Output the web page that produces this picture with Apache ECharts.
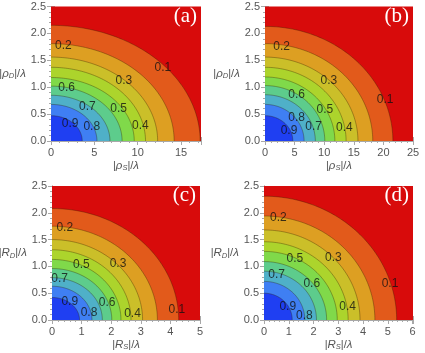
<!DOCTYPE html>
<html><head><meta charset="utf-8">
<script src="https://cdn.jsdelivr.net/npm/echarts@6/dist/echarts.min.js"></script>
<style>html,body{margin:0;padding:0;background:#fff}#c{width:425px;height:353px}</style>
</head><body><div id="c"></div>
<script>
// contour levels (inner to outer)
const levels = [0.9, 0.8, 0.7, 0.6, 0.5, 0.4, 0.3, 0.2, 0.1];
// fill colour of the region just inside each level (same order), and below lowest level
const levelFill = ['#1f3ff2', '#3f7ff3', '#4fb0c8', '#5dcc8c', '#80d94a', '#acd42c', '#cbbf29', '#dd9f22', '#e25a1b'];
const outerFill = '#d80b0b';

// contour intercepts on the horizontal axis and on the vertical axis, per panel
const aXint = [3.6, 5.3, 6.8, 8.2, 9.6, 10.9, 12.3, 14.2, 17.2];
const aYint = [0.47, 0.68, 0.85, 1.02, 1.18, 1.37, 1.56, 1.81, 2.15];
const bXint = [4.7, 6.6, 8.5, 10.1, 11.8, 13.7, 15.7, 18.2, 21.6];
const bYint = [0.47, 0.68, 0.86, 1.03, 1.19, 1.37, 1.56, 1.81, 2.13];
const cXint = [0.93, 1.35, 1.7, 2.02, 2.33, 2.67, 3.06, 3.56, 4.28];
const cYint = [0.42, 0.63, 0.79, 0.96, 1.13, 1.31, 1.5, 1.75, 2.08];
const dXint = [1.14, 1.65, 2.12, 2.53, 2.96, 3.4, 3.88, 4.48, 5.36];
const dYint = [0.5, 0.72, 0.91, 1.09, 1.28, 1.46, 1.68, 1.94, 2.31];

// contour labels [x, y, text]
const aLabels = [[1.42,1.78,'0.2'],[12.9,1.36,'0.1'],[8.4,1.13,'0.3'],[1.8,0.99,'0.6'],[4.2,0.64,'0.7'],[7.8,0.6,'0.5'],[2.2,0.33,'0.9'],[4.7,0.27,'0.8'],[10.3,0.28,'0.4']];
const bLabels = [[2.8,1.75,'0.2'],[10.8,1.13,'0.3'],[20.3,0.77,'0.1'],[5.35,0.87,'0.6'],[10.1,0.59,'0.5'],[5.35,0.44,'0.8'],[4.05,0.2,'0.9'],[8.2,0.27,'0.7'],[13.4,0.25,'0.4']];
const cLabels = [[0.43,1.72,'0.2'],[0.99,1.04,'0.5'],[2.23,1.05,'0.3'],[0.26,0.77,'0.7'],[0.6,0.34,'0.9'],[1.86,0.32,'0.6'],[1.25,0.14,'0.8'],[2.72,0.125,'0.4'],[4.22,0.2,'0.1']];
const dLabels = [[0.58,1.91,'0.2'],[1.25,1.14,'0.5'],[2.8,1.16,'0.3'],[0.51,0.85,'0.7'],[1.93,0.67,'0.6'],[5.09,0.68,'0.1'],[0.96,0.25,'0.9'],[3.38,0.24,'0.4'],[1.63,0.075,'0.8']];

// axes
const xMaxes = [17.3, 25, 5, 6.02];
const xIntervals = [5, 5, 1, 1];
const yMax = 2.5, yInterval = 0.5;
const panelTags = ['(a)', '(b)', '(c)', '(d)'];
const xSym = ['ρ', 'ρ', 'R', 'R'];

const panels = [
  {xi: aXint, yi: aYint, lab: aLabels, grid: {left: 51, top: 6.5, width: 150, height: 134.5}, ygap: 30},
  {xi: bXint, yi: bYint, lab: bLabels, grid: {left: 265, top: 6.5, width: 148, height: 134.5}, ygap: 30.5},
  {xi: cXint, yi: cYint, lab: cLabels, grid: {left: 52, top: 186, width: 148, height: 134}, ygap: 32},
  {xi: dXint, yi: dYint, lab: dLabels, grid: {left: 264, top: 186, width: 149, height: 134}, ygap: 33}
];

const frame = '#a8a8a8';
const tickText = '#555';
const FONT = 'Liberation Sans';

function nameRich(sym, sub) {
  return {
    text: '{n||}{i|' + sym + '}{s|' + sub + '}{n||/}{i|λ}',
    rich: {
      n: {fontSize: 11, color: '#555', fontFamily: FONT},
      i: {fontSize: 11.5, color: '#555', fontStyle: 'italic', fontFamily: FONT},
      s: {fontSize: 7.5, color: '#555', fontStyle: 'italic', fontFamily: FONT, verticalAlign: 'bottom', padding: [5, 0, 0, 0]}
    }
  };
}

const grids = [], xAxes = [], yAxes = [], series = [], graphics = [];
panels.forEach((p, k) => {
  grids.push(Object.assign({outerBoundsMode: 'none', containLabel: false}, p.grid));
  const xn = nameRich(xSym[k], 'S');
  const yn = nameRich(xSym[k], 'D');
  const xMax = xMaxes[k], xInt = xIntervals[k];
  const common = {
    gridIndex: k, type: 'value', min: 0,
    axisLine: {show: true, lineStyle: {color: frame, width: 1}},
    axisTick: {show: true, inside: true, length: 4, lineStyle: {color: frame}},
    minorTick: {show: true, splitNumber: 5, length: 2, lineStyle: {color: frame}},
    splitLine: {show: false}
  };
  xAxes.push(Object.assign({}, common, {
    position: 'bottom', max: xMax, interval: xInt,
    axisLabel: {color: tickText, fontSize: 11, fontFamily: FONT, margin: 6,
      formatter: v => (Math.abs(v / xInt - Math.round(v / xInt)) < 1e-6 ? String(Math.round(v)) : '')},
    name: xn.text, nameLocation: 'middle', nameGap: 18, nameTextStyle: {rich: xn.rich}
  }));
  xAxes.push(Object.assign({}, common, {position: 'top', max: xMax, interval: xInt, axisLabel: {show: false}}));
  yAxes.push(Object.assign({}, common, {
    position: 'left', max: yMax, interval: yInterval,
    axisLabel: {color: tickText, fontSize: 11, fontFamily: FONT, margin: 5, formatter: v => v.toFixed(1)},
    name: yn.text, nameLocation: 'middle', nameRotate: 0, nameGap: p.ygap, nameTextStyle: {rich: yn.rich, align: 'center'}
  }));
  yAxes.push(Object.assign({}, common, {position: 'right', max: yMax, interval: yInterval, axisLabel: {show: false}}));

  const xIdx = 2 * k, yIdx = 2 * k;
  // background (region below the lowest contour level)
  series.push({
    type: 'custom', xAxisIndex: xIdx, yAxisIndex: yIdx, z: 1, silent: true,
    data: [[0, 0]],
    renderItem: (params) => {
      const cs = params.coordSys;
      return {type: 'rect', shape: {x: cs.x, y: cs.y, width: cs.width, height: cs.height}, style: {fill: outerFill}};
    }
  });
  // filled contour regions, outermost first
  const cdata = [];
  for (let i = levels.length - 1; i >= 0; i--) cdata.push([p.xi[i], p.yi[i], i]);
  series.push({
    type: 'custom', xAxisIndex: xIdx, yAxisIndex: yIdx, z: 2, silent: true,
    data: cdata,
    renderItem: (params, api) => {
      const a = api.value(0), b = api.value(1), li = api.value(2);
      const N = 72;
      const arc = [];
      for (let j = 0; j <= N; j++) {
        const t = j / N * Math.PI / 2;
        arc.push(api.coord([a * Math.cos(t), b * Math.sin(t)]));
      }
      const poly = [api.coord([0, 0])].concat(arc);
      return {
        type: 'group',
        children: [
          {type: 'polygon', shape: {points: poly}, style: {fill: levelFill[li]}},
          {type: 'polyline', shape: {points: arc}, style: {fill: null, stroke: 'rgba(50,30,0,0.5)', lineWidth: 0.7}}
        ]
      };
    }
  });
  // contour labels
  series.push({
    type: 'scatter', xAxisIndex: xIdx, yAxisIndex: yIdx, z: 5, silent: true,
    symbolSize: 1, itemStyle: {color: 'rgba(0,0,0,0)'},
    data: p.lab.map(l => ({value: [l[0], l[1]], name: l[2]})),
    label: {show: true, position: 'inside', formatter: q => q.name, color: '#111', fontSize: 12, fontFamily: FONT}
  });
  // panel tag
  graphics.push({
    type: 'text', z: 100, zlevel: 0,
    x: p.grid.left + p.grid.width - 4,
    y: p.grid.top - 1,
    style: {text: panelTags[k], fill: '#fff', font: '21px "Liberation Serif"', textAlign: 'right', textVerticalAlign: 'top'}
  });
});

const chart = echarts.init(document.getElementById('c'), null, {renderer: 'canvas'});
chart.setOption({
  animation: false,
  grid: grids, xAxis: xAxes, yAxis: yAxes, series: series, graphic: {elements: graphics}
});
</script></body></html>
